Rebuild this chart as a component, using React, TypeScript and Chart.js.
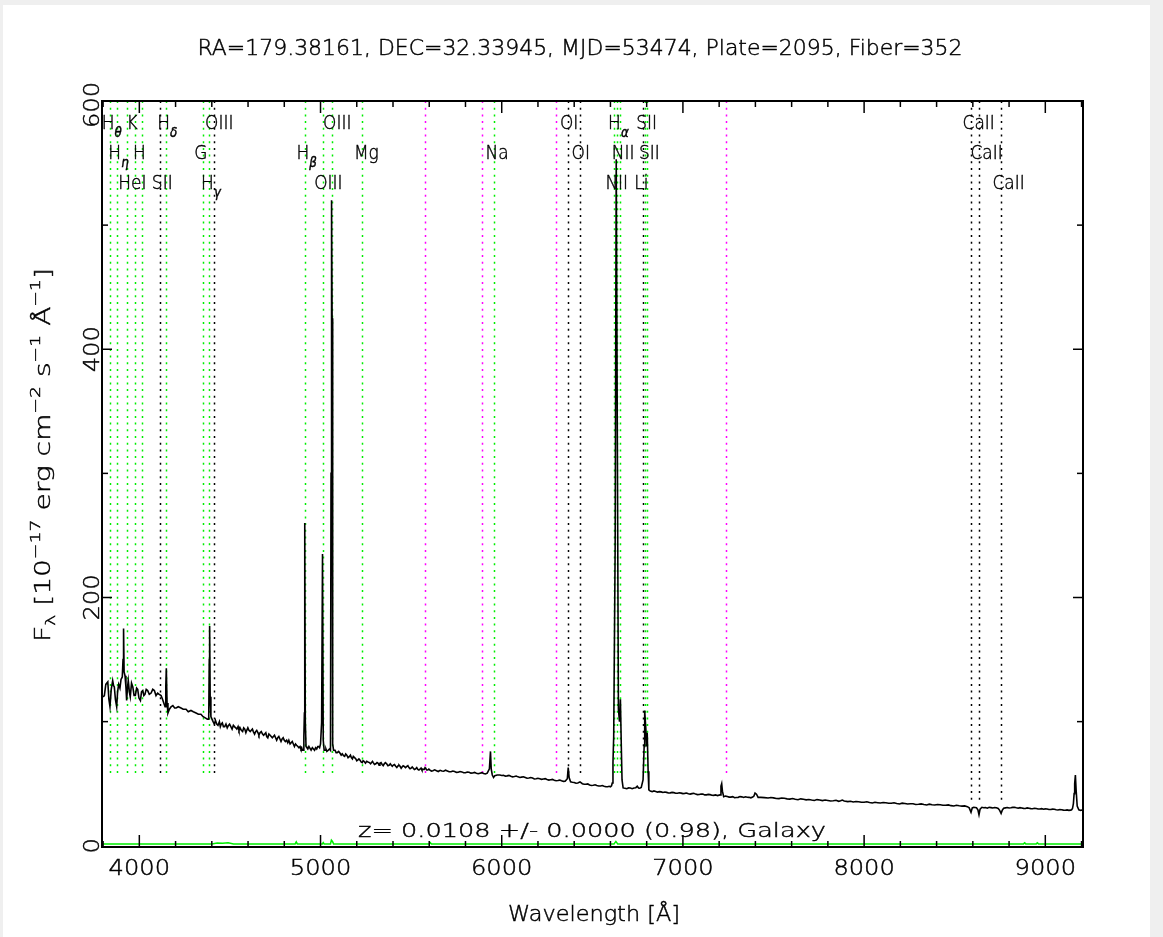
import { useEffect, useRef } from "react";
import { Chart, registerables } from "chart.js";
Chart.register(...registerables);

const titleText = "RA=179.38161, DEC=32.33945, MJD=53474, Plate=2095, Fiber=352";
const redshiftText = "z= 0.0108 +/- 0.0000 (0.98), Galaxy";
const xTickValues = [4000, 5000, 6000, 7000, 8000, 9000];
const xTickLabels = ["4000", "5000", "6000", "7000", "8000", "9000"];
const yTickValues = [0, 200, 400, 600];
const yTickLabels = ["0", "200", "400", "600"];

const specWave = [
  3800, 3807, 3815, 3826, 3832, 3838, 3845, 3853, 3858, 3862, 3868, 3875, 3880, 3886, 3893, 3899, 3906, 3910, 3913, 3916,
  3921, 3926, 3930, 3935, 3939, 3945, 3950, 3957, 3964, 3971, 3978, 3985, 3991, 3998, 4006, 4012, 4019, 4025, 4031, 4038,
  4046, 4055, 4065, 4074, 4083, 4092, 4101, 4110, 4120, 4128, 4135, 4142, 4146, 4149, 4153, 4158, 4166, 4175, 4185, 4195,
  4203, 4215, 4230, 4242, 4258, 4270, 4285, 4298, 4313, 4326, 4340, 4352, 4364, 4375, 4383, 4386, 4388, 4391, 4395, 4401,
  4407, 4414, 4420, 4427, 4434, 4442, 4447, 4452, 4458, 4464, 4471, 4478, 4485, 4492, 4498, 4505, 4512, 4519, 4525, 4532,
  4538, 4545, 4550, 4556, 4563, 4570, 4576, 4582, 4588, 4593, 4599, 4605, 4612, 4618, 4624, 4629, 4636, 4642, 4648, 4655,
  4660, 4666, 4673, 4680, 4686, 4692, 4698, 4703, 4709, 4715, 4722, 4728, 4734, 4740, 4746, 4752, 4758, 4764, 4770, 4776,
  4782, 4788, 4794, 4800, 4806, 4813, 4819, 4825, 4832, 4838, 4844, 4850, 4856, 4862, 4868, 4875, 4881, 4887, 4892, 4896,
  4900, 4905, 4908, 4911, 4913, 4916, 4920, 4925, 4930, 4936, 4942, 4948, 4955, 4961, 4967, 4973, 4979, 4985, 4990, 4995,
  5000, 5006, 5011, 5015, 5020, 5025, 5030, 5035, 5043, 5050, 5055, 5058, 5061, 5064, 5067, 5072, 5080, 5086, 5092, 5100,
  5108, 5114, 5120, 5127, 5133, 5139, 5145, 5152, 5160, 5165, 5170, 5176, 5181, 5188, 5195, 5200, 5205, 5212, 5218, 5224,
  5230, 5235, 5240, 5248, 5255, 5262, 5270, 5276, 5282, 5287, 5291, 5298, 5305, 5312, 5318, 5323, 5328, 5334, 5340, 5346,
  5352, 5358, 5365, 5372, 5380, 5385, 5390, 5396, 5402, 5408, 5415, 5421, 5428, 5433, 5439, 5445, 5450, 5456, 5462, 5469,
  5476, 5482, 5488, 5494, 5500, 5506, 5512, 5518, 5525, 5531, 5537, 5543, 5549, 5555, 5560, 5566, 5572, 5577, 5580, 5586,
  5592, 5598, 5604, 5612, 5620, 5630, 5640, 5650, 5660, 5670, 5680, 5690, 5700, 5710, 5720, 5730, 5740, 5750, 5760, 5770,
  5780, 5790, 5800, 5810, 5820, 5830, 5840, 5850, 5860, 5870, 5880, 5890, 5900, 5910, 5920, 5932, 5938, 5942, 5948, 5955,
  5962, 5975, 5990, 6000, 6010, 6020, 6030, 6040, 6050, 6060, 6070, 6080, 6090, 6100, 6110, 6120, 6130, 6140, 6150, 6160,
  6170, 6180, 6190, 6200, 6210, 6220, 6230, 6240, 6250, 6260, 6270, 6280, 6290, 6300, 6310, 6320, 6330, 6340, 6350, 6362,
  6367, 6372, 6380, 6390, 6400, 6410, 6420, 6432, 6445, 6455, 6465, 6475, 6485, 6495, 6505, 6515, 6525, 6535, 6545, 6555,
  6565, 6575, 6585, 6593, 6600, 6606, 6610, 6614, 6618, 6626, 6632, 6638, 6644, 6650, 6655, 6660, 6664, 6670, 6680, 6690,
  6700, 6710, 6720, 6730, 6740, 6748, 6755, 6762, 6770, 6780, 6786, 6789, 6795, 6800, 6803, 6808, 6812, 6820, 6830, 6840,
  6850, 6860, 6870, 6880, 6890, 6900, 6910, 6920, 6930, 6940, 6950, 6960, 6970, 6980, 6990, 7000, 7010, 7020, 7030, 7040,
  7050, 7060, 7070, 7080, 7090, 7100, 7110, 7120, 7130, 7140, 7150, 7160, 7170, 7180, 7190, 7205, 7210, 7214, 7218, 7225,
  7235, 7245, 7255, 7265, 7275, 7285, 7295, 7305, 7315, 7325, 7335, 7345, 7355, 7365, 7375, 7385, 7392, 7398, 7406, 7415,
  7430, 7450, 7470, 7485, 7500, 7515, 7530, 7545, 7560, 7575, 7590, 7605, 7620, 7635, 7650, 7665, 7680, 7695, 7710, 7725,
  7740, 7755, 7770, 7785, 7800, 7815, 7830, 7845, 7860, 7870, 7880, 7890, 7910, 7925, 7940, 7955, 7970, 7985, 8000, 8015,
  8030, 8045, 8060, 8075, 8090, 8105, 8120, 8135, 8150, 8165, 8180, 8195, 8210, 8225, 8240, 8255, 8270, 8285, 8300, 8315,
  8330, 8345, 8360, 8375, 8390, 8405, 8420, 8435, 8450, 8465, 8480, 8495, 8510, 8525, 8540, 8555, 8570, 8580, 8590, 8597,
  8605, 8620, 8628, 8634, 8640, 8650, 8660, 8670, 8680, 8690, 8700, 8710, 8720, 8730, 8740, 8748, 8756, 8762, 8770, 8780,
  8790, 8800, 8810, 8820, 8830, 8840, 8850, 8860, 8870, 8880, 8890, 8900, 8910, 8920, 8930, 8940, 8950, 8960, 8970, 8980,
  8990, 9000, 9010, 9020, 9030, 9040, 9050, 9060, 9070, 9080, 9090, 9100, 9110, 9120, 9130, 9140, 9145, 9150, 9155, 9159,
  9162, 9166, 9170, 9176, 9185, 9195, 9203, 9210,
];
const specFlux = [
  120, 121, 130, 132, 118, 112, 126, 133, 129, 128, 118, 112, 124, 130, 127, 134, 136, 150, 175, 140,
  137, 128, 117, 128, 133, 124, 120, 131, 128, 121, 121, 127, 126, 119, 117, 124, 125, 121, 122, 126,
  125, 122, 123, 126, 125, 121, 123, 122, 121, 118, 115, 112, 128, 143, 115, 107, 110, 112, 113, 111,
  111, 112, 111, 110, 110, 108, 109, 108, 107, 106, 106, 104, 103, 102, 102, 150, 177, 120, 104, 102,
  100, 98, 101, 98, 97, 100, 96, 98, 99, 96, 96, 98, 95, 97, 98, 96, 94, 97, 96, 95,
  94, 96, 93, 95, 93, 92, 95, 94, 91, 93, 95, 93, 92, 93, 94, 92, 90, 92, 93, 91,
  89, 91, 92, 90, 89, 90, 91, 88, 87, 90, 89, 88, 87, 88, 89, 87, 85, 87, 88, 86,
  84, 86, 87, 85, 84, 85, 83, 85, 82, 83, 84, 82, 80, 82, 81, 80, 79, 80, 78, 79,
  77, 77, 88, 107, 260, 100, 80, 79, 78, 80, 78.5, 77, 79, 78, 77, 79, 78, 80, 80, 79,
  82, 99, 235, 85, 77, 77, 78, 76, 77, 78, 77, 300, 520, 425, 82, 77, 77, 75, 75, 76,
  74.5, 73, 74, 72.5, 72, 74, 73, 71, 72, 73, 71, 70, 72, 71, 70, 68.5, 69, 70, 69, 67.5,
  67, 68.5, 68, 66.5, 68, 67.5, 67, 66, 67, 68, 67, 65.5, 66, 67, 66.5, 65, 66.5, 67, 65.5, 64.5,
  66, 67, 66, 64.5, 65, 66, 65, 64, 65, 65.5, 64, 63, 64.5, 65, 64, 62.5, 63.5, 64.5, 64, 63,
  64, 64.5, 63, 62, 62.5, 63.5, 62.5, 61.5, 62, 63, 61.5, 61, 61.7, 62.5, 61, 61.5, 61.5, 63, 62.5, 61,
  61, 61.8, 61, 60.2, 60.5, 61.2, 60.5, 59.8, 60.8, 60.2, 60, 60.9, 60.3, 59.6, 59.6, 60.2, 59.8, 59.1, 59.2, 59.8,
  59.5, 58.8, 58.8, 59.4, 59.2, 58.5, 58.6, 59.1, 58.4, 58, 58.5, 58.9, 58.2, 57.8, 58.5, 62, 76, 62, 57, 55,
  56.5, 57, 57, 56.6, 56.8, 56.1, 56.3, 56.7, 56, 55.5, 55.8, 56.2, 55.5, 55, 55.3, 55.6, 55, 54.4, 54.6, 55,
  54.5, 53.8, 54, 54.4, 54, 53.5, 53.8, 54.1, 53.4, 52.9, 53.2, 53.5, 52.8, 52.4, 52.6, 52.9, 52.3, 51.9, 52, 54,
  63, 55, 51.5, 51.2, 51, 50.4, 50.6, 51.5, 50, 49.6, 49.5, 49.8, 49, 48.6, 48.8, 49.1, 48.5, 48.1, 48.2, 48.5,
  48, 47.6, 47.5, 47.9, 47.5, 48.3, 50.6, 67, 88, 240, 553, 330, 110, 100, 118, 80, 53, 46.6, 46.3, 46,
  46.6, 46.5, 46, 46.5, 46.8, 48, 46.6, 46.4, 47, 53, 80, 109, 95, 80, 91, 60, 45, 44, 43.6, 44.2,
  43.8, 43.2, 43.6, 43.4, 42.9, 43.3, 43, 42.5, 42.6, 43, 42.8, 42.3, 42.3, 42.7, 42.4, 42, 42.2, 42.5, 41.9, 41.6,
  42, 42.3, 41.6, 41.2, 41.3, 41.7, 41.6, 41, 41, 41.4, 41.2, 40.7, 40.6, 41, 40.4, 41, 48, 50, 44, 39.5,
  40, 39.7, 39.2, 39.2, 39.6, 38.7, 38.9, 39, 39.6, 39.4, 38.9, 39.5, 39.1, 39, 38.6, 39.2, 40, 42.5, 41.5, 39,
  39, 38.8, 38.5, 38.9, 38.6, 38.1, 38, 38.5, 38.3, 37.8, 37.6, 38.1, 37.4, 37.1, 37.8, 37.4, 37, 37.3, 36.8, 36.5,
  37.2, 36.9, 36.4, 36.8, 36.5, 36.1, 36.2, 36.6, 35.8, 36.2, 36.8, 36.1, 35.6, 35.9, 35.3, 35.7, 35.5, 35.1, 35, 35.4,
  34.8, 34.5, 35, 34.7, 34.4, 34.8, 34.6, 34.2, 34.2, 34.6, 34, 33.7, 34.3, 34, 33.6, 33.9, 33.8, 33.3, 33.4, 33.7,
  33.2, 32.9, 33.5, 33.1, 32.8, 33.2, 33, 32.6, 32.6, 32.9, 32.3, 32, 32.6, 32.2, 31.9, 32.1, 31.5, 30.5, 27, 30.5,
  31, 30.6, 29, 25, 29.5, 31, 30.6, 30.8, 30.3, 31, 30.7, 30.4, 30.8, 30.6, 30, 28.5, 26, 28.5, 30.2, 30.5,
  30.8, 30.4, 30.6, 30.9, 31, 30.6, 30.3, 30.7, 30.4, 30.1, 30, 30.5, 30.2, 29.9, 29.8, 30.2, 30, 29.6, 29.6, 29.9,
  29.4, 29.7, 29.6, 29.2, 29.2, 29.5, 29.4, 29, 28.8, 29.2, 29, 28.7, 28.6, 28.9, 28.5, 28.7, 29, 30, 34, 42,
  50, 57, 45, 32, 29, 28.5, 28.8, 28,
];

const errWave = [3800, 4400, 4430, 4460, 4490, 4520, 4860, 4866, 4872, 5010, 5015, 5020, 5055, 5060, 5066, 5072, 5600, 5606, 5612, 6620, 6630, 6640, 8880, 8886, 8892, 8950, 8956, 8962, 9210];
const errFlux = [1.5, 1.5, 2.2, 2.0, 2.4, 1.5, 1.5, 3.2, 1.5, 1.5, 2.6, 1.5, 1.5, 4.5, 3.5, 1.5, 1.5, 2.5, 1.5, 1.5, 3.5, 1.5, 1.5, 2.4, 1.5, 1.5, 2.4, 1.5, 1.5];

const markerWave = [3839, 3876, 3931, 3976, 4012, 4116, 4146, 4350, 4387, 4410, 4914, 5012, 5061, 5231, 5577, 5890, 5958, 6300, 6368, 6432, 6619, 6634, 6654, 6779, 6789, 6804, 7240, 8590, 8634, 8755];
const markerName = ["H", "H", "HeI", "K", "H", "SII", "H", "G", "H", "OIII", "H", "OIII", "OIII", "Mg", "", "", "Na", "", "OI", "OI", "NII", "H", "NII", "Li", "SII", "SII", "", "CaII", "CaII", "CaII"];
const markerSub = ["θ", "η", "", "", "", "", "δ", "", "γ", "", "β", "", "", "", "", "", "", "", "", "", "", "α", "", "", "", "", "", "", "", ""];
const markerKind = ["em", "em", "em", "em", "em", "abs", "em", "em", "em", "abs", "em", "em", "em", "em", "sky", "sky", "em", "sky", "abs", "abs", "em", "em", "em", "abs", "em", "em", "sky", "abs", "abs", "abs"];
const markerRow = [0, 1, 2, 0, 1, 2, 0, 1, 2, 0, 1, 2, 0, 1, 0, 0, 1, 0, 0, 1, 2, 0, 1, 2, 0, 1, 0, 0, 1, 2];

const FONT = '"DejaVu Sans", "Liberation Sans", Arial, sans-serif';
const WEIGHT = "200";
type Seg = { t: string; s?: number; dy?: number; it?: boolean; dx?: number };

function drawRich(
  ctx: CanvasRenderingContext2D,
  segs: Seg[],
  x: number,
  y: number,
  size: number,
  opt: { align?: "left" | "center"; width?: number; sx?: number; rot?: boolean } = {}
) {
  ctx.save();
  ctx.translate(x, y);
  if (opt.rot) ctx.rotate(-Math.PI / 2);
  const fonts = segs.map((sg) => `${sg.it ? "italic " : ""}${WEIGHT} ${Math.round(size * (sg.s || 1))}px ${FONT}`);
  const widths = segs.map((sg, i) => {
    ctx.font = fonts[i];
    return ctx.measureText(sg.t).width + (sg.dx || 0);
  });
  const W = widths.reduce((a, b) => a + b, 0);
  const sx = opt.width ? opt.width / W : opt.sx || 1;
  ctx.scale(sx, 1);
  let cx = opt.align === "left" ? 0 : -W / 2;
  ctx.fillStyle = "#000";
  ctx.strokeStyle = "#000";
  ctx.lineWidth = 0.45;
  ctx.textBaseline = "alphabetic";
  ctx.textAlign = "left";
  const base = size * 0.36;
  segs.forEach((sg, i) => {
    ctx.font = fonts[i];
    ctx.fillText(sg.t, cx + (sg.dx || 0), base + (sg.dy || 0));
    ctx.strokeText(sg.t, cx + (sg.dx || 0), base + (sg.dy || 0));
    cx += widths[i];
  });
  ctx.restore();
}

const kindColor: Record<string, string> = { em: "#00ee00", abs: "#000000", sky: "#ff00ff" };

const decorPlugin = {
  id: "decor",
  beforeDatasetsDraw(chart: any) {
    const { ctx, chartArea, scales } = chart;
    const { top } = chartArea;
    ctx.save();
    ctx.lineWidth = 1.5;
    ctx.setLineDash([2, 4.7]);
    markerWave.forEach((w, i) => {
      const px = Math.round(scales.x.getPixelForValue(w)) + 0.5;
      const endFlux = markerName[i] === "CaII" ? 37 : 57;
      const py = scales.y.getPixelForValue(endFlux);
      ctx.strokeStyle = kindColor[markerKind[i]];
      ctx.beginPath();
      ctx.moveTo(px, top);
      ctx.lineTo(px, py);
      ctx.stroke();
    });
    ctx.restore();
  },
  afterDraw(chart: any) {
    const { ctx, chartArea, scales } = chart;
    const { left, right, top, bottom } = chartArea;
    const xs = scales.x;
    const ys = scales.y;
    ctx.save();
    ctx.strokeStyle = "#000";
    ctx.lineWidth = 2;
    ctx.setLineDash([]);
    ctx.strokeRect(left, top, right - left, bottom - top);
    ctx.lineWidth = 1.5;
    const seg = (x1: number, y1: number, x2: number, y2: number) => {
      ctx.beginPath();
      ctx.moveTo(x1, y1);
      ctx.lineTo(x2, y2);
      ctx.stroke();
    };
    for (let v = 3800; v <= 9200; v += 200) {
      const px = xs.getPixelForValue(v);
      if (px < left + 1 || px > right - 1) continue;
      const L = v % 1000 === 0 ? 12 : 6;
      seg(px, bottom, px, bottom - L);
      seg(px, top, px, top + L);
    }
    for (let v = 100; v <= 600; v += 100) {
      const py = ys.getPixelForValue(v);
      if (py < top - 1) continue;
      const L = v % 200 === 0 ? 10 : 6;
      seg(left, py, left + L, py);
      seg(right, py, right - L, py);
    }
    ctx.restore();

    xTickValues.forEach((v, i) => {
      drawRich(ctx, [{ t: xTickLabels[i] }], xs.getPixelForValue(v), 867, 21, { sx: 1.15 });
    });
    yTickValues.forEach((v, i) => {
      drawRich(ctx, [{ t: yTickLabels[i] }], 91, Math.max(ys.getPixelForValue(v), top + 4), 21, { sx: 1.15, rot: true });
    });

    drawRich(ctx, [{ t: titleText }], 580, 47, 21, { width: 765 });
    drawRich(ctx, [{ t: "Wavelength [Å]" }], 594, 913, 21, { width: 172 });
    drawRich(ctx, [{ t: redshiftText }], 592, 830, 20, { width: 468 });
    drawRich(
      ctx,
      [
        { t: "F" },
        { t: "λ", s: 0.65, dy: 5 },
        { t: " [10" },
        { t: "−17", s: 0.65, dy: -10 },
        { t: " erg cm" },
        { t: "−2", s: 0.65, dy: -10 },
        { t: " s" },
        { t: "−1", s: 0.65, dy: -10 },
        { t: " Å" },
        { t: "−1", s: 0.65, dy: -10 },
        { t: "]" },
      ],
      42,
      455,
      21,
      { width: 374, rot: true }
    );

    const rowY = [122, 152, 182];
    markerWave.forEach((w, i) => {
      if (!markerName[i]) return;
      const px = xs.getPixelForValue(w);
      const segs: Seg[] = [{ t: markerName[i] }];
      if (markerSub[i]) segs.push({ t: markerSub[i], s: 0.7, dy: 8, it: true, dx: 0 });
      drawRich(ctx, segs, px - 8.5, rowY[markerRow[i]], 20, { align: "left", sx: 0.85 });
    });
  },
};

export default function App() {
  const ref = useRef<HTMLCanvasElement | null>(null);
  useEffect(() => {
    document.body.style.margin = "0";
    document.body.style.background = "#efefef";
    const canvas = ref.current!;
    const chart = new Chart(canvas, {
      type: "line",
      data: {
        datasets: [
          {
            label: "flux",
            data: specWave.map((w, i) => ({ x: w, y: specFlux[i] })),
            borderColor: "#000000",
            borderWidth: 1.6,
            pointRadius: 0,
            tension: 0,
            fill: false,
          },
          {
            label: "error",
            data: errWave.map((w, i) => ({ x: w, y: errFlux[i] })),
            borderColor: "#00ee00",
            borderWidth: 1.5,
            pointRadius: 0,
            tension: 0,
            fill: false,
          },
        ],
      },
      options: {
        animation: false,
        responsive: false,
        devicePixelRatio: 1,
        layout: { padding: { left: 102, right: 80, top: 101, bottom: 90 } },
        plugins: { legend: { display: false }, tooltip: { enabled: false }, title: { display: false } },
        scales: {
          x: { type: "linear", min: 3794, max: 9208, display: false },
          y: { type: "linear", min: -1, max: 600, display: false },
        },
      },
      plugins: [decorPlugin],
    });
    return () => chart.destroy();
  }, []);
  return (
    <div style={{ position: "fixed", left: 0, top: 0, width: 1163, height: 937, background: "#efefef" }}>
      <div style={{ position: "absolute", left: 3, top: 5, width: 1147, height: 932, background: "#fff" }} />
      <canvas
        ref={ref}
        width={1163}
        height={937}
        style={{ position: "absolute", left: 0, top: 0, width: 1163, height: 937, display: "block" }}
      />
    </div>
  );
}
